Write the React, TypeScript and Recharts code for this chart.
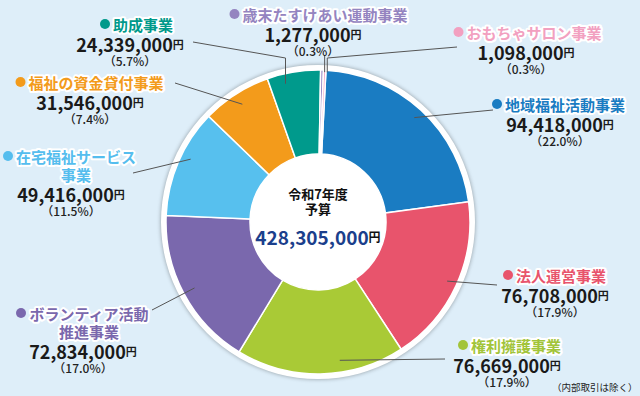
import React from 'react';
import { PieChart, Pie, Cell } from 'recharts';

const titles = [
  ['地域福祉活動事業'],
  ['法人運営事業'],
  ['権利擁護事業'],
  ['ボランティア活動', '推進事業'],
  ['在宅福祉サービス', '事業'],
  ['福祉の資金貸付事業'],
  ['助成事業'],
  ['歳末たすけあい運動事業'],
  ['おもちゃサロン事業'],
];
const amounts = [94418000, 76708000, 76669000, 72834000, 49416000, 31546000, 24339000, 1277000, 1098000];
const shares = ['22.0', '17.9', '17.9', '17.0', '11.5', '7.4', '5.7', '0.3', '0.3'];
const totalLabel = '428,305,000';

const sliceColors = ['#1a7cc2', '#e8546c', '#a9ca36', '#7a68ad', '#57c0ee', '#f39b1b', '#009a8c', '#9b87c4', '#f4a3c4'];
const titleColors = ['#1a7cc2', '#e8546c', '#a2c43a', '#7a68ad', '#55bdee', '#f39b1b', '#00998a', '#9484c0', '#f2a0c0'];

// label block layout: title centre, number centre, top y, leader end
type Layout = { tx: number; x: number; y: number; end?: [number, number]; elbowY?: number; r: number; da?: number };
const layouts: Layout[] = [
  { tx: 565, x: 560, y: 104, end: [493, 110], r: 142 },
  { tx: 561, x: 555, y: 275, end: [497, 285], r: 142 },
  { tx: 516, x: 507, y: 345, end: [445, 359], r: 140, da: 8 },
  { tx: 89, x: 83, y: 313, end: [152, 310], r: 140 },
  { tx: 76, x: 71, y: 156, end: [133, 173], r: 142, da: -3 },
  { tx: 96, x: 90, y: 82, end: [175, 83], r: 140 },
  { tx: 143, x: 130, y: 24, end: [193, 42], elbowY: 58, r: 142, da: 4 },
  { tx: 325, x: 313, y: 14, elbowY: 55, r: 150, da: -1 },
  { tx: 534, x: 526, y: 32, end: [457, 47], elbowY: 58, r: 150, da: -1 },
];

const data = titles.map((t, i) => ({ name: t.join(''), value: amounts[i] }));
const disk = [{ name: '予算', value: amounts.reduce((a, b) => a + b, 0) }];

const FONT = '"Noto Sans CJK JP", "Noto Sans", sans-serif';
const RADIAN = Math.PI / 180;

const fmt = (n: number) => n.toLocaleString('en-US');

const renderLabel = (props: any) => {
  const { cx, cy, midAngle, index } = props;
  const l = layouts[index];
  const a = midAngle + (l.da || 0);
  const px = cx + l.r * Math.cos(-a * RADIAN);
  const py = cy + l.r * Math.sin(-a * RADIAN);
  const pts: [number, number][] = [[px, py]];
  if (l.elbowY !== undefined) pts.push([px, l.elbowY]);
  if (l.end) pts.push(l.end);
  const lines = titles[index];
  const w = lines[0].length * 15;
  const numY = l.y + (lines.length - 1) * 18 + 20;
  return (
    <g key={`lab-${index}`}>
      <polyline points={pts.map((p) => p.join(',')).join(' ')} fill="none" stroke="#555" strokeWidth={1} />
      <circle cx={l.tx - w / 2 - 8} cy={l.y} r={5} fill={titleColors[index]} />
      {lines.map((t, k) => (
        <text
          key={k}
          x={l.tx}
          y={l.y + k * 18}
          textAnchor="middle"
          dominantBaseline="central"
          fontFamily={FONT}
          fontWeight={700}
          fontSize={15}
          fill={titleColors[index]}
          stroke="#fff"
          strokeWidth={4}
          strokeLinejoin="round"
          paintOrder="stroke"
        >
          {t}
        </text>
      ))}
      <text x={l.x} y={numY} textAnchor="middle" dominantBaseline="central" fontFamily={FONT} fill="#1a1a1a">
        <tspan fontSize={18} fontWeight={700}>{fmt(amounts[index])}</tspan>
        <tspan fontSize={11} fontWeight={700}>円</tspan>
      </text>
      <text x={l.x} y={numY + 16} textAnchor="middle" dominantBaseline="central" fontFamily={FONT} fontSize={12} fontWeight={500} fill="#222">
        （{shares[index]}%）
      </text>
    </g>
  );
};

const renderCenter = (props: any) => {
  const { cx, cy } = props;
  return (
    <g key="center">
      <text x={cx} y={cy - 29} textAnchor="middle" dominantBaseline="central" fontFamily={FONT} fontSize={13} fontWeight={700} fill="#111">
        令和7年度
      </text>
      <text x={cx} y={cy - 14} textAnchor="middle" dominantBaseline="central" fontFamily={FONT} fontSize={13} fontWeight={700} fill="#111">
        予算
      </text>
      <text x={cx} y={cy + 14} textAnchor="middle" dominantBaseline="central" fontFamily={FONT} fill="#1b3f8c">
        <tspan fontSize={19} fontWeight={700}>{totalLabel}</tspan>
        <tspan fontSize={12} fontWeight={700} fill="#111">円</tspan>
      </text>
    </g>
  );
};

export default function App() {
  return (
    <div style={{ position: 'fixed', left: 0, top: 0, width: 640, height: 396, background: '#deeef9', overflow: 'hidden' }}>
      <style>{`.disk path { filter: drop-shadow(0 0 2px rgba(0,0,0,0.35)); }`}</style>
      <PieChart width={640} height={396} margin={{ top: 0, right: 0, bottom: 0, left: 0 }}>
        <Pie
          data={disk}
          dataKey="value"
          cx={318}
          cy={222}
          innerRadius={0}
          outerRadius={157}
          fill="#fff"
          stroke="none"
          className="disk"
          label={renderCenter}
          labelLine={false}
          isAnimationActive={false}
        />
        <Pie
          data={data}
          dataKey="value"
          cx={318}
          cy={222}
          innerRadius={68}
          outerRadius={152}
          startAngle={87}
          endAngle={-273}
          stroke="#fff"
          strokeWidth={1.5}
          label={renderLabel}
          labelLine={false}
          isAnimationActive={false}
        >
          {data.map((d, i) => (
            <Cell key={d.name} fill={sliceColors[i]} />
          ))}
        </Pie>
      </PieChart>
      <div
        style={{
          position: 'absolute',
          left: 552,
          top: 381,
          fontFamily: FONT,
          fontSize: 9.5,
          lineHeight: '12px',
          color: '#222',
          whiteSpace: 'nowrap',
        }}
      >
        （内部取引は除く）
      </div>
    </div>
  );
}
